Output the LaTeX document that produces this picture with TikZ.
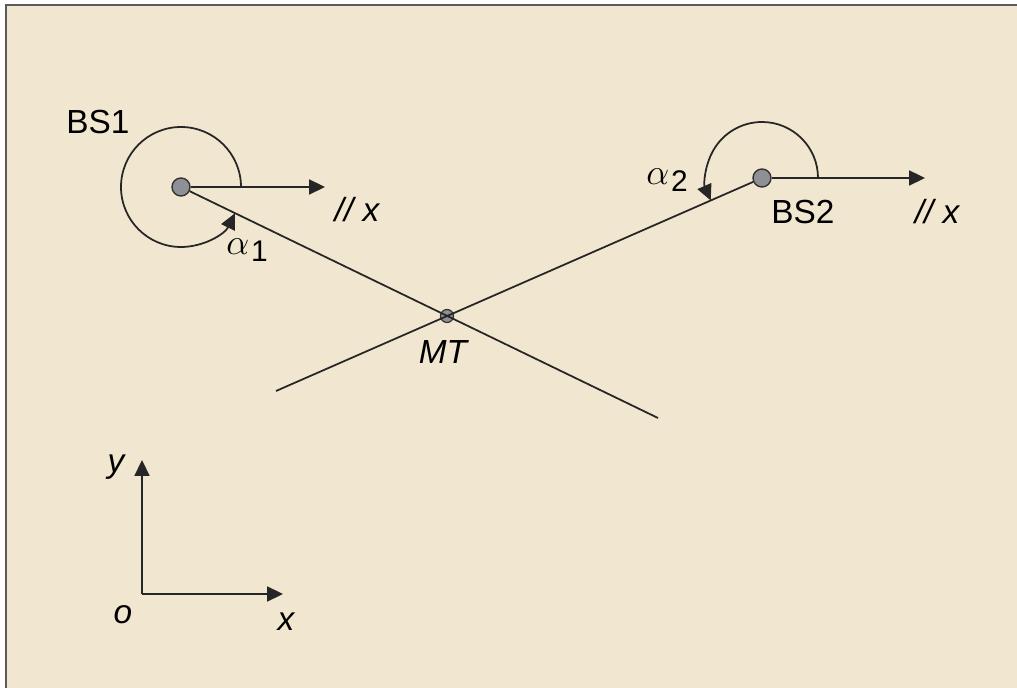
\documentclass[tikz,border=0pt]{standalone}
\usepackage{fontspec}
\setmainfont{Liberation Sans}
\usepackage{tikz}
\usetikzlibrary{arrows.meta, positioning}
\definecolor{paper}{HTML}{F1E6CF}
\definecolor{frame}{HTML}{5A5A5A}
\definecolor{dotgray}{HTML}{8E9096}
\newcommand{\anglbl}[1]{\fontsize{22}{24}\selectfont$\alpha$\hspace{1pt}\raisebox{-4pt}{\fontsize{17}{19}\selectfont #1}}

\begin{document}
\begin{tikzpicture}[
  x=0.02cm, y=0.02cm,
  station/.style={circle, draw=black!80, fill=dotgray, line width=0.8pt,
    inner sep=0pt, minimum size=18*0.02cm},
  mobile/.style={circle, draw=black!80, fill=dotgray, line width=0.7pt,
    inner sep=0pt, minimum size=13*0.02cm},
  arr/.style={-{Triangle[length=9pt, width=8.5pt]}, line width=1pt, black!85},
  ray/.style={line width=1pt, black!85},
  lbl/.style={font=\fontsize{19}{22}\selectfont, inner sep=0pt},
  ilbl/.style={font=\fontsize{19}{22}\selectfont\itshape, inner sep=0pt},
]
\useasboundingbox (0,0) rectangle (1017,-688);

% background and frame
\fill[paper] (6,-5) rectangle (1017,-688);
\draw[frame, line width=1.2pt] (6,-688) -- (6,-5) -- (1017,-5);

% stations and terminal
\node[station] (bs1) at (181,-187) {};
\node[station] (bs2) at (762,-178) {};
\node[mobile] (mt) at (447,-316) {};

% line ends
\coordinate (end1) at (658,-418);
\coordinate (end2) at (276,-391);
\coordinate (par1) at (325,-187);
\coordinate (par2) at (925,-178);

% rays through MT
\draw[ray] (bs1) -- (end1);
\draw[ray] (bs2) -- (end2);

% parallels to x
\draw[arr] (bs1) -- (par1);
\draw[arr] (bs2) -- (par2);

% angles
\draw[arr] ([shift={(0:60)}]bs1.center) arc[start angle=0, end angle=334, radius=60];
\draw[arr] ([shift={(0:56)}]bs2.center) arc[start angle=0, end angle=203.7, radius=56];

% labels
\node[lbl] (lbs1) at (98,-122) {BS1};
\node[lbl] (lbs2) at (803,-212) {BS2};
\node[ilbl] (lpar1) at (357,-210) {// x};
\node[ilbl] (lpar2) at (937,-212) {// x};
\node[lbl] (la1) at (247,-250) {\anglbl{1}};
\node[lbl] (la2) at (667,-180) {\anglbl{2}};
\node[ilbl] (lmt) at (443,-352) {MT};

% axes
\coordinate (o) at (142,-594);
\coordinate (ytip) at (142,-460);
\coordinate (xtip) at (283,-594);
\draw[arr] (o) -- (ytip);
\draw[arr] (o) -- (xtip);
\node[ilbl] (ly) at (116,-467) {y};
\node[ilbl] (lo) at (123,-615) {o};
\node[ilbl] (lx) at (286,-622) {x};

\end{tikzpicture}
\end{document}
